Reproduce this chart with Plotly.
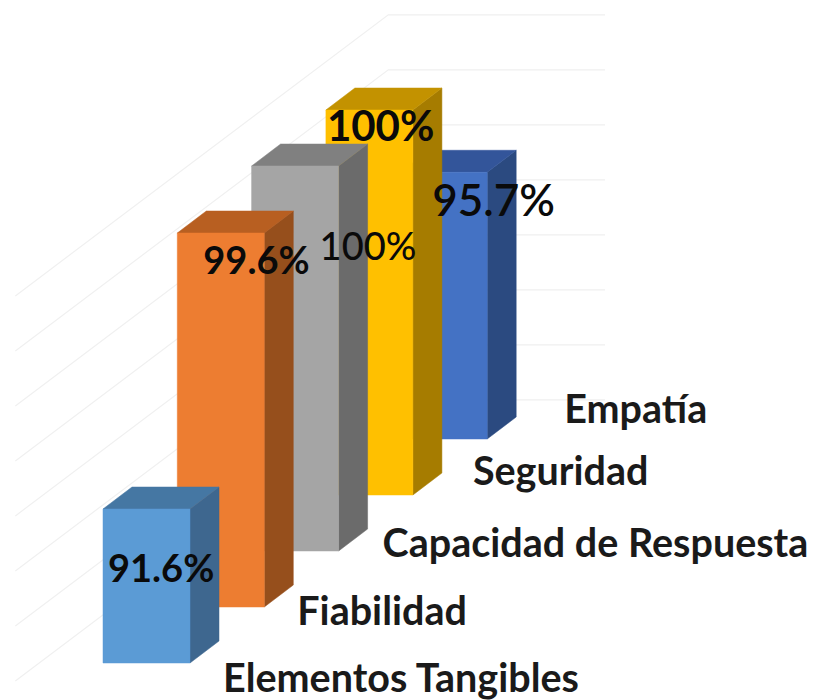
import plotly.graph_objects as go

categories = ["Elementos Tangibles", "Fiabilidad", "Capacidad de Respuesta", "Seguridad", "Empatía"]
values = [91.6, 99.6, 100, 100, 95.7]
value_labels = ["91.6%", "99.6%", "100%", "100%", "95.7%"]
axis_ticks = [86, 88, 90, 92, 94, 96, 98, 100]

front_colors = ["#5B9BD5", "#ED7D31", "#A5A5A5", "#FFC000", "#4472C4"]
side_colors = ["#3E678F", "#964F1C", "#6B6B6B", "#A67C00", "#2B4A80"]
top_colors = ["#4577A3", "#B85F21", "#808080", "#C39200", "#33559A"]

# Oblique projection, expressed in axis units
W, H = 815, 700
PX_X, PX_Y = 74.3, 27.5          # pixels per series step / per percentage point
BASE = 86
STEP_Y = 56 / PX_Y               # rise of the baseline per series step
BAR_W = 87 / PX_X
DEPTH_X, DEPTH_Y = 29 / PX_X, 22 / PX_Y
LEFT_PX, BASE_PX = 103, 663
xrange_ = [-LEFT_PX / PX_X, (W - LEFT_PX) / PX_X]
yrange_ = [BASE - (H - BASE_PX) / PX_Y, BASE + BASE_PX / PX_Y]

fig = go.Figure()


def poly(xs, ys, color):
    fig.add_trace(go.Scatter(x=xs + xs[:1], y=ys + ys[:1], mode="lines", fill="toself",
                             fillcolor=color, line=dict(color=color, width=0.5),
                             hoverinfo="skip", showlegend=False))


# walls: gridlines on floor-side and back wall
T_FRONT, T_BACK = -0.32, 4.70
FLOOR_X0 = -0.86
RIGHT_END = (605 - LEFT_PX) / PX_X
for tick in axis_ticks:
    fig.add_trace(go.Scatter(
        x=[FLOOR_X0 + T_FRONT, FLOOR_X0 + T_BACK, RIGHT_END],
        y=[tick + T_FRONT * STEP_Y, tick + T_BACK * STEP_Y, tick + T_BACK * STEP_Y],
        mode="lines", line=dict(color="#F0F0F0", width=1.2),
        hoverinfo="skip", showlegend=False))

# bars, back to front
for i in reversed(range(len(values))):
    x0, x1 = i, i + BAR_W
    y0, y1 = BASE + i * STEP_Y, values[i] + i * STEP_Y
    poly([x1, x1 + DEPTH_X, x1 + DEPTH_X, x1], [y0, y0 + DEPTH_Y, y1 + DEPTH_Y, y1], side_colors[i])
    poly([x0, x0 + DEPTH_X, x1 + DEPTH_X, x1], [y1, y1 + DEPTH_Y, y1 + DEPTH_Y, y1], top_colors[i])
    poly([x0, x1, x1, x0], [y0, y0, y1, y1], front_colors[i])

# data labels: offsets from each bar's top-left corner, in pixels
label_dx = [5, 26, 68, 1, 32]
label_dy = [63, 31, 84, 20, 33]
label_size = [38, 38, 38, 42, 44]
label_weight = [700, 700, 500, 700, 600]
for i, t in enumerate(value_labels):
    fig.add_trace(go.Scatter(
        x=[i + label_dx[i] / PX_X],
        y=[values[i] + i * STEP_Y - label_dy[i] / PX_Y],
        mode="text", text=[t], textposition="middle right",
        textfont=dict(family="Lato", size=label_size[i], color="#0A0A0A", weight=label_weight[i]),
        hoverinfo="skip", showlegend=False))

# category labels, relative to each bar's foot
cat_dx = [120, 120, 131, 147, 164]
cat_dy = [19, 8, -4, -20, -26]
for i, c in enumerate(categories):
    fig.add_trace(go.Scatter(
        x=[i + cat_dx[i] / PX_X],
        y=[BASE + i * STEP_Y - cat_dy[i] / PX_Y],
        mode="text", text=[c], textposition="middle right",
        textfont=dict(family="Lato", size=39.5, color="#1A1A1A", weight=700),
        hoverinfo="skip", showlegend=False))

fig.update_xaxes(range=xrange_, visible=False, fixedrange=True)
fig.update_yaxes(range=yrange_, visible=False, fixedrange=True)
fig.update_layout(width=W, height=H, margin=dict(l=0, r=0, t=0, b=0),
                  paper_bgcolor="white", plot_bgcolor="white", showlegend=False)
fig.write_html("out.html", config=dict(displayModeBar=False),
               post_script="document.body.style.margin='0';")
